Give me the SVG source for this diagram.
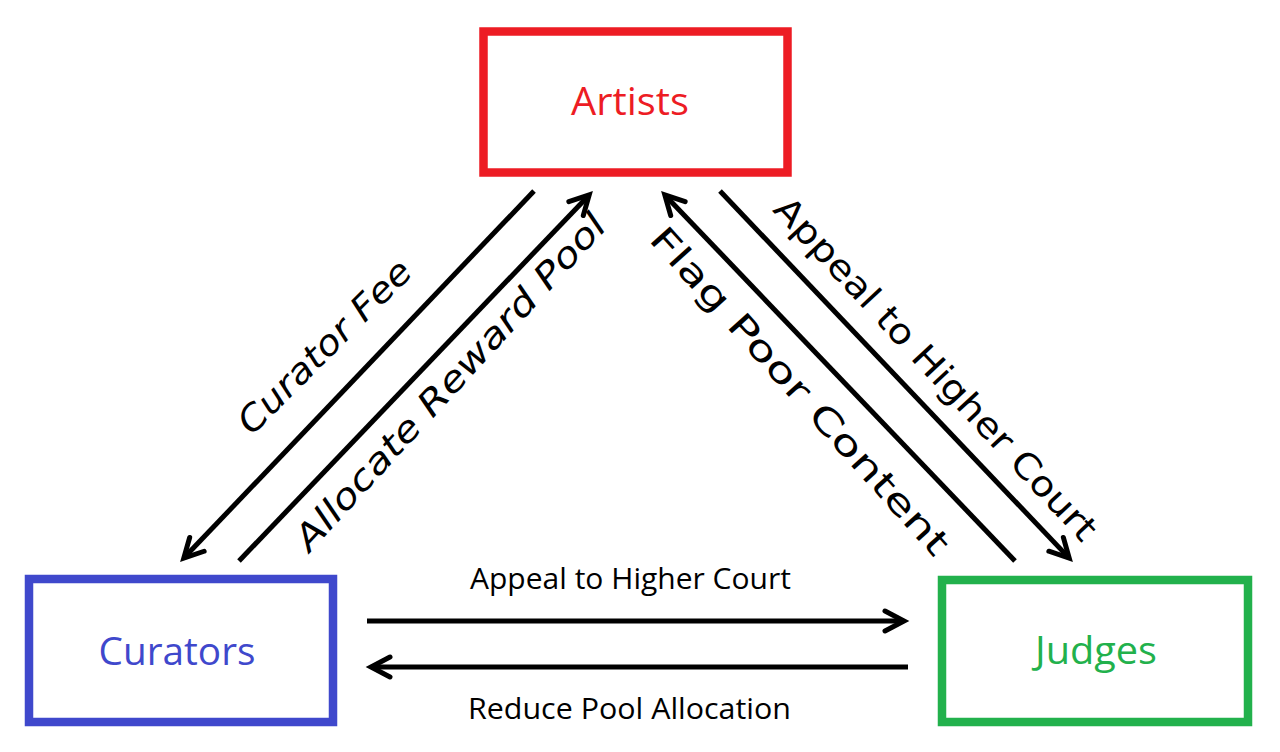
<svg xmlns="http://www.w3.org/2000/svg" width="1280" height="752" viewBox="0 0 1280 752">
  <style>
    .box { fill: #ffffff; stroke-width: 8.5; }
    .lbl { font-family: "Open Sans", "Liberation Sans", sans-serif; font-size: 38px; text-anchor: middle; }
    .hl { font-family: "Open Sans", "Liberation Sans", sans-serif; font-size: 29px; fill: #000; text-anchor: middle; }
    .dl { font-family: "DejaVu Sans", "Liberation Sans", sans-serif; font-size: 35px; fill: #000; text-anchor: middle; }
    .conn { fill: none; stroke: #000; stroke-width: 5; marker-end: url(#ah); }
  </style>
  <defs>
    <marker id="ah" markerUnits="userSpaceOnUse" viewBox="-30 -20 40 40" markerWidth="40" markerHeight="40" refX="0" refY="0" orient="auto" overflow="visible">
      <path d="M-19,-10 L0,0 L-19,10" fill="none" stroke="#000" stroke-width="5" stroke-linecap="round" stroke-linejoin="miter"/>
    </marker>
  </defs>
  <rect width="1280" height="752" fill="#ffffff"/>

  <g id="artists">
    <rect class="box" x="483.5" y="31.5" width="304" height="141" stroke="#ED1C24"/>
    <text class="lbl" x="630" y="115" fill="#ED1C24" textLength="118" lengthAdjust="spacingAndGlyphs">Artists</text>
  </g>
  <g id="curators">
    <rect class="box" x="29" y="579" width="304" height="143" stroke="#3F48CC"/>
    <text class="lbl" x="177" y="665" fill="#3F48CC" textLength="157" lengthAdjust="spacingAndGlyphs">Curators</text>
  </g>
  <g id="judges">
    <rect class="box" x="942" y="580" width="306" height="142" stroke="#22B14C"/>
    <text class="lbl" x="1096" y="664" fill="#22B14C" textLength="122" lengthAdjust="spacingAndGlyphs">Judges</text>
  </g>

  <g id="connectors">
    <path class="conn" d="M534,191 L183.8,558.1"/>
    <path class="conn" d="M239,561 L589.2,194.9"/>
    <path class="conn" d="M1015,561 L664.8,194.9"/>
    <path class="conn" d="M720,191 L1069.2,558.1"/>
    <path class="conn" d="M367,621 L904,621"/>
    <path class="conn" d="M908,667 L371,667"/>
  </g>

  <g id="labels">
    <text class="hl" x="630.5" y="589" textLength="321" lengthAdjust="spacingAndGlyphs">Appeal to Higher Court</text>
    <text class="hl" x="629.5" y="719" textLength="323" lengthAdjust="spacingAndGlyphs">Reduce Pool Allocation</text>
    <text class="dl" font-style="italic" transform="translate(333,355) rotate(-45)" x="0" y="0" textLength="230" lengthAdjust="spacingAndGlyphs">Curator Fee</text>
    <text class="dl" font-style="italic" transform="translate(459,390) rotate(-47.5)" x="0" y="0" textLength="442" lengthAdjust="spacingAndGlyphs">Allocate Reward Pool</text>
    <text class="dl" transform="translate(791,399) rotate(48)" x="0" y="0" textLength="428" lengthAdjust="spacingAndGlyphs">Flag Poor Content</text>
    <text class="dl" transform="translate(927,377) rotate(47)" x="0" y="0" textLength="455" lengthAdjust="spacingAndGlyphs">Appeal to Higher Court</text>
  </g>
</svg>
